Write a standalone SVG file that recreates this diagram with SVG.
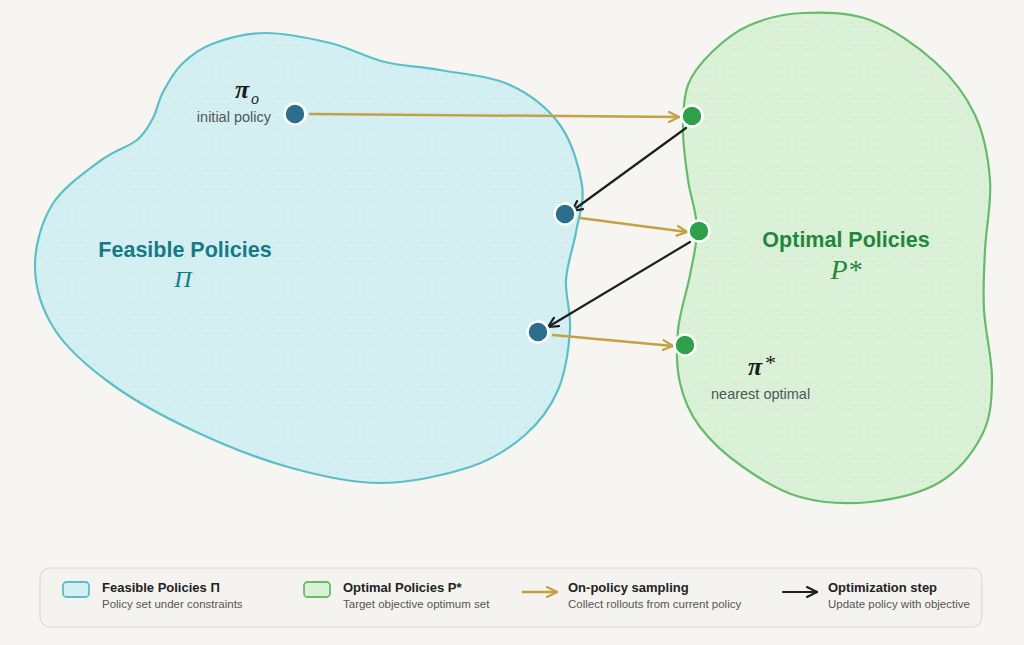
<svg xmlns="http://www.w3.org/2000/svg" width="1024" height="645" viewBox="0 0 1024 645">
  <style>
    .sans { font-family: "Liberation Sans", Arial, sans-serif; }
    .greek { font-family: "Liberation Serif", "Times New Roman", serif; font-style: italic; }
    .lbl { font-size: 14.5px; fill: #4f5656; }
    .bdot { fill: #2b6e8e; stroke: #ffffff; stroke-width: 2.5; }
    .gdot { fill: #2e9f4b; stroke: #ffffff; stroke-width: 2.5; }
    .gold { stroke: #c4a046; stroke-width: 2.5; fill: none; stroke-linecap: round; }
    .blk { stroke: #1f1f1f; stroke-width: 2.2; fill: none; stroke-linecap: round; }
    .lt { font-size: 13px; font-weight: bold; fill: #222; }
    .ls { font-size: 11.5px; fill: #555; }
  </style>
  <defs>
    <pattern id="dotsB" width="9" height="9" patternUnits="userSpaceOnUse">
      <circle cx="4.5" cy="4.5" r="0.7" fill="#5bb6bf" fill-opacity="0.28"/>
    </pattern>
    <pattern id="dotsG" width="9" height="9" patternUnits="userSpaceOnUse">
      <circle cx="4.5" cy="4.5" r="0.7" fill="#6cbf6e" fill-opacity="0.28"/>
    </pattern>
    <marker id="ahGold" viewBox="0 0 12 12" refX="11" refY="6" markerWidth="12" markerHeight="12" markerUnits="userSpaceOnUse" orient="auto">
      <path d="M1,1 L11,6 L1,11" fill="none" stroke="#c4a046" stroke-width="2.2" stroke-linecap="round" stroke-linejoin="round"/>
    </marker>
    <marker id="ahBlk" viewBox="0 0 12 12" refX="11" refY="6" markerWidth="12" markerHeight="12" markerUnits="userSpaceOnUse" orient="auto">
      <path d="M1,1 L11,6 L1,11" fill="none" stroke="#1f1f1f" stroke-width="2.2" stroke-linecap="round" stroke-linejoin="round"/>
    </marker>
    <path id="blobB" d="M265,33 C284.7,32.8 310,38.2 330,43 C350,47.8 366.7,57.5 385,62 C403.3,66.5 419.2,66.2 440,70 C460.8,73.8 490,75.8 510,85 C530,94.2 548,108.3 560,125 C572,141.7 579.3,167.2 582,185 C584.7,202.8 578.7,216.2 576,232 C573.3,247.8 567,263.7 566,280 C565,296.3 571.3,311.7 570,330 C568.7,348.3 565.5,372.5 558,390 C550.5,407.5 539.7,422.2 525,435 C510.3,447.8 494.2,459 470,467 C445.8,475 410.3,483 380,483 C349.7,483 319.3,475.8 288,467 C256.7,458.2 221.7,444 192,430 C162.3,416 132.8,399.7 110,383 C87.2,366.3 67.5,349.2 55,330 C42.5,310.8 35.5,288.8 35,268 C34.5,247.2 41.2,222.8 52,205 C62.8,187.2 85.8,171.8 100,161 C114.2,150.2 128.2,147.2 137,140 C145.8,132.8 148.7,126 153,118 C157.3,110 158.2,101 163,92 C167.8,83 173.8,72 182,64 C190.2,56 198.2,49.2 212,44 C225.8,38.8 245.3,33.2 265,33 Z"/>
    <path id="blobG" d="M803,13 C823,12.2 848,11.8 870,20 C892,28.2 917.5,46.2 935,62 C952.5,77.8 965.8,95.3 975,115 C984.2,134.7 988.3,157.5 990,180 C991.7,202.5 986,228.3 985,250 C984,271.7 982.8,288.3 984,310 C985.2,331.7 992.3,359.2 992,380 C991.7,400.8 990.7,418 982,435 C973.3,452 958.7,470.8 940,482 C921.3,493.2 893.3,499.5 870,502 C846.7,504.5 821.2,502.8 800,497 C778.8,491.2 759.7,478.7 743,467 C726.3,455.3 710.5,441 700,427 C689.5,413 683.7,399.2 680,383 C676.3,366.8 676.3,348 678,330 C679.7,312 686.8,292 690,275 C693.2,258 697.3,243.8 697,228 C696.7,212.2 690.3,196.3 688,180 C685.7,163.7 683,145.8 683,130 C683,114.2 683.2,98 688,85 C692.8,72 701.7,62 712,52 C722.3,42 734.8,31.5 750,25 C765.2,18.5 783,13.8 803,13 Z"/>
  </defs>

  <rect width="1024" height="645" fill="#f6f5f1"/>

  <g id="feasible-set">
    <use href="#blobB" fill="#d4eff2"/>
    <use href="#blobB" fill="url(#dotsB)"/>
    <use href="#blobB" fill="none" stroke="#5bbfc8" stroke-width="2.2"/>
    <text class="sans" x="185" y="257" text-anchor="middle" font-size="21.5" font-weight="bold" fill="#167a86">Feasible Policies</text>
    <text class="greek" x="183" y="287" text-anchor="middle" font-size="24" fill="#167a86">Π</text>
  </g>

  <g id="optimal-set">
    <use href="#blobG" fill="#daf1d7"/>
    <use href="#blobG" fill="url(#dotsG)"/>
    <use href="#blobG" fill="none" stroke="#67bb6a" stroke-width="2.2"/>
    <text class="sans" x="846" y="247" text-anchor="middle" font-size="21.5" font-weight="bold" fill="#23863c">Optimal Policies</text>
    <text class="greek" x="846" y="279" text-anchor="middle" font-size="28" fill="#23863c">P*</text>
  </g>

  <g id="connectors">
    <line class="gold" x1="310" y1="114" x2="679" y2="117" marker-end="url(#ahGold)"/>
    <line class="blk" x1="686" y1="128" x2="572" y2="211" marker-end="url(#ahBlk)"/>
    <line class="gold" x1="580" y1="218" x2="687" y2="232" marker-end="url(#ahGold)"/>
    <line class="blk" x1="690" y1="242" x2="548" y2="327" marker-end="url(#ahBlk)"/>
    <line class="gold" x1="553" y1="335" x2="673" y2="346" marker-end="url(#ahGold)"/>
  </g>

  <g id="node-pi0">
    <circle class="bdot" cx="295" cy="114" r="10.5"/>
    <text class="greek" x="235" y="98" font-size="26" font-weight="bold" fill="#1c1c1c">π</text>
    <text class="greek" x="251" y="104" font-size="16" fill="#1c1c1c">o</text>
    <text class="sans lbl" x="271" y="122" text-anchor="end">initial policy</text>
  </g>
  <g id="node-g1"><circle class="gdot" cx="692" cy="116" r="10.5"/></g>
  <g id="node-b1"><circle class="bdot" cx="565" cy="214" r="10.5"/></g>
  <g id="node-g2"><circle class="gdot" cx="699" cy="231" r="10.5"/></g>
  <g id="node-b2"><circle class="bdot" cx="538" cy="332" r="10.5"/></g>
  <g id="node-g3"><circle class="gdot" cx="685" cy="345" r="10.5"/></g>
  <g id="label-pistar">
    <text class="greek" x="748" y="375" font-size="26" font-weight="bold" fill="#1c1c1c">π</text>
    <text class="greek" x="764" y="370" font-size="22" fill="#1c1c1c">*</text>
    <text class="sans lbl" x="711" y="399">nearest optimal</text>
  </g>

  <g id="legend">
    <rect x="40" y="568" width="942" height="59" rx="10" fill="#f4f3ef" stroke="#dcdad4" stroke-width="1.2"/>
    <rect x="63" y="582" width="26" height="15" rx="3.5" fill="#d4eff2" stroke="#5bbfc8" stroke-width="1.8"/>
    <text class="sans lt" x="102" y="592">Feasible Policies Π</text>
    <text class="sans ls" x="102" y="608">Policy set under constraints</text>
    <rect x="304" y="582" width="26" height="15" rx="3.5" fill="#daf1d7" stroke="#67bb6a" stroke-width="1.8"/>
    <text class="sans lt" x="343" y="592">Optimal Policies P*</text>
    <text class="sans ls" x="343" y="608">Target objective optimum set</text>
    <line class="gold" x1="523" y1="592" x2="557" y2="592" marker-end="url(#ahGold)"/>
    <text class="sans lt" x="568" y="592">On-policy sampling</text>
    <text class="sans ls" x="568" y="608">Collect rollouts from current policy</text>
    <line class="blk" x1="783" y1="592" x2="817" y2="592" marker-end="url(#ahBlk)"/>
    <text class="sans lt" x="828" y="592">Optimization step</text>
    <text class="sans ls" x="828" y="608">Update policy with objective</text>
  </g>
</svg>
